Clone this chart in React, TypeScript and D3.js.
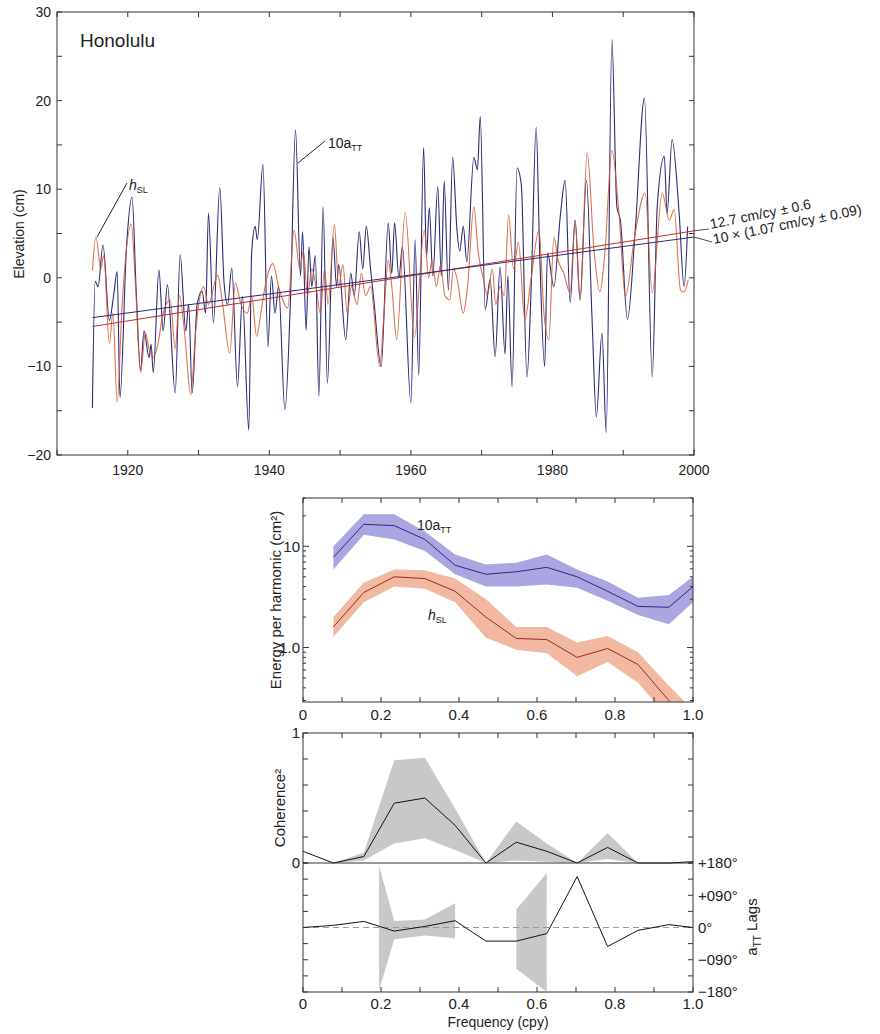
import React from 'react';
import * as d3 from 'd3';

// ---- top panel: Honolulu time series (extrema) ----
const aTTYears = [1915.0, 1915.4, 1915.8, 1916.5, 1917.4, 1918.0, 1918.5, 1918.9, 1919.8, 1920.6, 1921.2, 1921.8, 1922.3, 1923.0, 1923.3, 1923.6, 1924.4, 1925.0, 1925.6, 1926.7, 1927.4, 1928.2, 1928.6, 1929.1, 1929.8, 1930.5, 1931.0, 1931.4, 1932.1, 1933.0, 1933.6, 1934.1, 1934.7, 1935.5, 1936.2, 1937.1, 1937.5, 1938.0, 1938.3, 1939.1, 1939.8, 1940.3, 1940.8, 1941.3, 1942.2, 1943.0, 1943.7, 1944.4, 1944.7, 1945.2, 1945.6, 1946.0, 1946.5, 1947.0, 1947.6, 1948.2, 1949.0, 1949.5, 1949.8, 1950.8, 1951.5, 1952.0, 1952.7, 1953.2, 1953.7, 1954.3, 1954.8, 1955.8, 1956.8, 1957.3, 1957.7, 1958.3, 1958.8, 1960.0, 1960.6, 1961.1, 1961.8, 1962.2, 1962.6, 1963.1, 1963.8, 1964.3, 1964.7, 1965.3, 1965.9, 1966.5, 1966.9, 1967.4, 1967.9, 1968.9, 1969.4, 1969.8, 1970.5, 1971.2, 1971.9, 1972.6, 1973.3, 1973.7, 1974.3, 1975.0, 1975.6, 1976.4, 1977.0, 1977.7, 1978.2, 1978.9, 1979.3, 1980.2, 1981.1, 1981.8, 1982.5, 1983.2, 1983.9, 1984.8, 1985.6, 1986.2, 1987.0, 1987.6, 1988.4, 1989.1, 1989.6, 1990.6, 1991.7, 1993.0, 1994.1, 1994.8, 1995.8, 1996.2, 1996.9, 1997.9, 1998.6, 1999.1];
const aTTValues = [-14.7, -0.4, -1.0, 3.7, -4.8, -2.0, 0.7, -13.5, 3.2, 9.1, -1.7, -10.4, -6.0, -9.0, -7.5, -10.7, 0.9, -6.0, -0.8, -13.0, 2.6, -6.0, -3.0, -13.0, -3.0, -1.5, -4.0, 7.3, -5.1, 10.2, -0.5, -3.0, 1.1, -12.3, -2.1, -17.2, 2.8, 5.8, 4.3, 12.8, -7.8, 0.2, -4.0, -1.0, -14.9, -2.1, 16.7, 0.2, 5.2, -5.9, 3.5, -1.0, 2.5, -13.4, 8.0, -11.9, 4.5, -1.0, 1.5, -7.0, 0.5, -2.0, 5.2, 1.0, 5.8, 1.0, -2.8, -10.0, 6.2, 0.5, 6.2, 0.0, 3.5, -14.1, 4.3, -11.0, 14.7, 2.3, 7.9, 0.2, 10.3, 0.2, 10.9, -1.4, 13.6, 5.5, 3.0, 5.8, 1.8, 13.6, 12.2, 18.2, -3.6, -0.2, -8.9, 1.2, -8.6, 0.2, -12.3, 12.4, 10.5, -11.2, -1.0, 17.0, 2.7, -10.0, 2.8, -1.0, 6.9, 11.0, -2.8, 6.5, -2.5, 11.0, -4.7, -15.7, -6.2, -17.5, 26.9, 8.0, 6.5, -4.7, 5.4, 20.3, -11.2, 8.0, 13.7, 7.3, 15.6, 7.3, -1.0, 5.8];

const hSLYears = [1915.0, 1915.5, 1916.2, 1916.6, 1917.4, 1917.9, 1918.5, 1919.2, 1920.5, 1921.1, 1921.8, 1922.5, 1923.0, 1923.6, 1924.2, 1925.0, 1926.0, 1926.7, 1927.3, 1928.0, 1928.9, 1929.6, 1930.7, 1931.4, 1932.7, 1933.4, 1934.4, 1935.2, 1936.0, 1936.9, 1937.5, 1938.2, 1938.8, 1939.4, 1940.5, 1941.3, 1942.6, 1943.5, 1944.3, 1944.8, 1945.4, 1946.0, 1946.6, 1947.2, 1947.8, 1948.3, 1949.2, 1949.8, 1950.4, 1951.0, 1951.6, 1952.4, 1953.0, 1953.6, 1954.3, 1955.6, 1956.2, 1956.8, 1957.3, 1958.0, 1959.2, 1960.5, 1961.9, 1962.5, 1963.0, 1963.6, 1964.2, 1964.8, 1965.5, 1966.0, 1966.5, 1967.4, 1968.0, 1968.9, 1969.5, 1970.2, 1970.8, 1971.5, 1972.0, 1972.6, 1973.2, 1973.8, 1974.5, 1975.2, 1976.1, 1977.0, 1978.1, 1978.8, 1979.5, 1980.2, 1980.8, 1981.6, 1982.5, 1983.2, 1983.9, 1984.9, 1985.9, 1986.7, 1987.4, 1988.4, 1989.4, 1990.3, 1991.6, 1993.1, 1994.1, 1995.5, 1996.5, 1997.2, 1998.1, 1998.6, 1999.2];
const hSLValues = [0.8, 4.6, 1.0, 2.5, -7.4, -4.0, -14.0, -3.0, 6.0, -1.0, -10.7, -6.2, -8.0, -9.0, -7.7, -4.0, -2.5, -8.0, -2.0, -6.0, -13.2, -6.0, -1.0, -3.0, 0.3, -3.0, -8.5, -0.6, -3.0, -4.0, -2.0, -6.6, -4.0, -1.0, 1.6, -1.0, -3.4, 5.4, 1.0, 3.0, -2.0, 1.0, -1.0, -4.0, 1.0, -3.0, 6.0, -1.0, 1.5, -4.0, -1.0, -3.0, 0.5, -2.0, -1.0, -10.0, -4.0, 2.0, -1.0, -7.0, 7.4, -6.7, 5.4, 0.0, 2.0, -1.0, 1.5, -2.0, -2.5, 1.0, 0.0, -4.0, -1.0, 8.0, 3.0, 0.0, -2.0, 1.0, -3.0, -1.0, -2.0, 7.1, 1.0, 4.0, -4.7, 0.0, 5.4, -4.0, -7.0, 4.6, 2.0, 0.5, -1.7, 6.5, -2.5, 14.1, 2.8, -1.6, 2.8, 14.4, 7.3, -2.1, 4.6, 9.6, -1.7, 9.6, 6.5, 7.7, -1.4, -1.6, -0.2];

const trendYears = [1915, 2000];
const hSLTrend = [-5.5, 5.3];
const aTTTrend = [-4.5, 4.6];

const yearLabels = [1920, 1940, 1960, 1980, 2000];
const elevLabels = [-20, -10, 0, 10, 20, 30];

// ---- spectra ----
const specFreq = [0.078, 0.156, 0.234, 0.3125, 0.39, 0.469, 0.547, 0.625, 0.703, 0.781, 0.859, 0.938, 1.0];
const aTTEnergy = [7.8, 16.5, 16.0, 11.7, 6.5, 5.3, 5.6, 6.2, 5.0, 3.6, 2.55, 2.5, 4.0];
const aTTEnergyHi = [10.0, 20.7, 20.7, 14.0, 8.3, 6.6, 6.9, 8.3, 5.9, 4.5, 3.1, 3.3, 5.0];
const aTTEnergyLo = [5.9, 13.0, 11.7, 9.0, 5.3, 4.0, 4.0, 4.2, 3.9, 2.9, 2.1, 1.7, 2.8];
const hSLEnergy = [1.6, 3.5, 5.0, 4.8, 3.6, 2.0, 1.23, 1.2, 0.8, 0.98, 0.68, 0.3, 0.17];
const hSLEnergyHi = [2.0, 4.4, 5.9, 5.8, 4.8, 3.0, 1.6, 1.6, 1.12, 1.3, 0.9, 0.42, 0.24];
const hSLEnergyLo = [1.28, 2.8, 4.0, 3.8, 2.8, 1.25, 0.95, 0.88, 0.52, 0.72, 0.45, 0.2, 0.12];

// ---- coherence and phase ----
const cohFreq = [0, 0.078, 0.156, 0.234, 0.3125, 0.39, 0.469, 0.547, 0.625, 0.703, 0.781, 0.859, 0.938, 1.0];
const coherence = [0.09, 0.0, 0.05, 0.46, 0.5, 0.29, 0.0, 0.16, 0.09, 0.0, 0.12, 0.0, 0.0, 0.01];
const coherenceHi = [0.09, 0.0, 0.08, 0.79, 0.81, 0.42, 0.0, 0.32, 0.15, 0.0, 0.23, 0.0, 0.0, 0.01];
const coherenceLo = [0.09, 0.0, 0.02, 0.15, 0.19, 0.1, 0.0, 0.02, 0.01, 0.0, 0.03, 0.0, 0.0, 0.01];
const lag = [0, 6, 17, -10, 3, 19, -38, -38, -17, 142, -53, -8, 8, 0];
const lagBand1Freq = [0.195, 0.234, 0.3125, 0.39];
const lagBand1Hi = [172, 18, 22, 68];
const lagBand1Lo = [-175, -33, -22, -30];
const lagBand2Freq = [0.547, 0.625];
const lagBand2Hi = [50, 152];
const lagBand2Lo = [-115, -180];

const freqLabels = [0, 0.2, 0.4, 0.6, 0.8, 1.0];
const lagLabels = ['+180°', '+090°', '0°', '−090°', '−180°'];
const lagLabelValues = [180, 90, 0, -90, -180];

const FONT = '"Liberation Sans", Arial, Helvetica, sans-serif';
const INK = '#333';
const BLUE = '#2c2a78';
const RED = '#d8582c';

const fmt = (v: number) => (v < 0 ? '−' + Math.abs(v) : String(v));

export default function App() {
  // top panel
  const x = d3.scaleLinear().domain([1910, 2000]).range([57, 694]);
  const y = d3.scaleLinear().domain([-20, 30]).range([455, 12]);
  const line = d3.line<[number, number]>()
    .x(d => x(d[0])).y(d => y(d[1]))
    .curve(d3.curveMonotoneX);
  const aTT = aTTYears.map((t, i) => [t, aTTValues[i]] as [number, number]);
  const hSL = hSLYears.map((t, i) => [t, hSLValues[i]] as [number, number]);

  // spectra panel
  const fx = d3.scaleLinear().domain([0, 1]).range([303, 693]);
  const ey = d3.scaleLog().domain([0.29, 30]).range([702, 498]);
  const eLine = d3.line<number>().x((d, i) => fx(specFreq[i])).y(d => ey(d));
  const eArea = (hi: number[], lo: number[]) => d3.area<number>()
    .x((d, i) => fx(specFreq[i])).y0((d, i) => ey(lo[i])).y1(d => ey(d))(hi);

  // coherence panel
  const cy = d3.scaleLinear().domain([0, 1]).range([863, 733]);
  const cLine = d3.line<number>().x((d, i) => fx(cohFreq[i])).y(d => cy(d));
  const cArea = d3.area<number>().x((d, i) => fx(cohFreq[i]))
    .y0((d, i) => cy(coherenceLo[i])).y1(d => cy(d));

  // lag panel
  const ly = d3.scaleLinear().domain([-180, 180]).range([992, 863]);
  const lLine = d3.line<number>().x((d, i) => fx(cohFreq[i])).y(d => ly(d));
  const lArea = (fr: number[], hi: number[], lo: number[]) => d3.area<number>()
    .x((d, i) => fx(fr[i])).y0((d, i) => ly(lo[i])).y1(d => ly(d))(hi);

  const tenths = d3.range(0, 1.0001, 0.1);

  return (
    <svg width={880} height={1034} style={{ position: 'absolute', left: 0, top: 0, background: '#fff' }}
      fontFamily={FONT} fill="#222">
      <defs>
        <clipPath id="clipTop"><rect x={57} y={12} width={637} height={443} /></clipPath>
        <clipPath id="clipE"><rect x={303} y={498} width={390} height={204} /></clipPath>
      </defs>

      {/* ===== top panel ===== */}
      <g clipPath="url(#clipTop)" fill="none">
        <path d={line(aTT) || ''} stroke={BLUE} strokeWidth={1.1} />
        <path d={line(hSL) || ''} stroke={RED} strokeWidth={1.1} opacity={0.85} />
        <line x1={x(trendYears[0])} x2={x(trendYears[1])} y1={y(hSLTrend[0])} y2={y(hSLTrend[1])} stroke="#b8302a" strokeWidth={1} />
        <line x1={x(trendYears[0])} x2={x(trendYears[1])} y1={y(aTTTrend[0])} y2={y(aTTTrend[1])} stroke={BLUE} strokeWidth={1} />
      </g>
      <rect x={57} y={12} width={637} height={443} fill="none" stroke={INK} strokeWidth={1} />
      {x.ticks(9).map(t => (
        <g key={'xt' + t} stroke={INK}>
          <line x1={x(t)} x2={x(t)} y1={455} y2={450} />
          <line x1={x(t)} x2={x(t)} y1={12} y2={17} />
        </g>
      ))}
      {d3.range(-20, 30.1, 5).map(t => (
        <g key={'yt' + t} stroke={INK}>
          <line x1={57} x2={62} y1={y(t)} y2={y(t)} />
          <line x1={694} x2={689} y1={y(t)} y2={y(t)} />
        </g>
      ))}
      {elevLabels.map(t => (
        <text key={'yl' + t} x={51} y={y(t)} dy="0.35em" textAnchor="end" fontSize={14}>{fmt(t)}</text>
      ))}
      {yearLabels.map(t => (
        <text key={'xl' + t} x={x(t)} y={475} textAnchor="middle" fontSize={14}>{t}</text>
      ))}
      <text transform="translate(24,234) rotate(-90)" textAnchor="middle" fontSize={14}>Elevation (cm)</text>
      <text x={80} y={47} fontSize={19}>Honolulu</text>

      <line x1={97} y1={237} x2={127} y2={183} stroke="#222" strokeWidth={1} />
      <text x={129} y={190} fontSize={14}><tspan fontStyle="italic">h</tspan><tspan fontSize={9} dy={3}>SL</tspan></text>
      <line x1={298} y1={163} x2={325} y2={141} stroke="#222" strokeWidth={1} />
      <text x={328} y={148} fontSize={14}>10a<tspan fontSize={9} dy={3}>TT</tspan></text>

      <line x1={694} y1={y(hSLTrend[1])} x2={709} y2={229} stroke="#222" strokeWidth={0.8} />
      <line x1={694} y1={y(aTTTrend[1])} x2={712} y2={242} stroke="#222" strokeWidth={0.8} />
      <text transform="translate(711,229) rotate(-11.5)" fontSize={14}>12.7 cm/cy ± 0.6</text>
      <text transform="translate(714,244) rotate(-11.5)" fontSize={14}>10 × (1.07 cm/cy ± 0.09)</text>

      {/* ===== energy spectra panel ===== */}
      <g clipPath="url(#clipE)">
        <path d={eArea(aTTEnergyHi, aTTEnergyLo) || ''} fill="#aaa6e2" />
        <path d={eArea(hSLEnergyHi, hSLEnergyLo) || ''} fill="#f1b9a2" />
        <path d={eLine(aTTEnergy) || ''} fill="none" stroke={BLUE} strokeWidth={1} />
        <path d={eLine(hSLEnergy) || ''} fill="none" stroke="#9a2a1c" strokeWidth={1} />
      </g>
      <rect x={303} y={498} width={390} height={204} fill="none" stroke={INK} strokeWidth={1} />
      {tenths.map(t => (
        <g key={'et' + t} stroke={INK}>
          <line x1={fx(t)} x2={fx(t)} y1={702} y2={697} />
          <line x1={fx(t)} x2={fx(t)} y1={498} y2={503} />
        </g>
      ))}
      {ey.ticks().map(t => {
        const major = t === 1 || t === 10;
        const L = major ? 6 : 3;
        return (
          <g key={'ey' + t} stroke={INK}>
            <line x1={303} x2={303 + L} y1={ey(t)} y2={ey(t)} />
            <line x1={693} x2={693 - L} y1={ey(t)} y2={ey(t)} />
          </g>
        );
      })}
      <text x={300} y={ey(10)} dy="0.35em" textAnchor="end" fontSize={15}>10</text>
      <text x={300} y={ey(1)} dy="0.35em" textAnchor="end" fontSize={15}>1.0</text>
      {freqLabels.map(t => (
        <text key={'efl' + t} x={fx(t)} y={720} textAnchor="middle" fontSize={15}>{t === 0 ? '0' : t.toFixed(1)}</text>
      ))}
      <text transform="translate(281,600) rotate(-90)" textAnchor="middle" fontSize={15}>Energy per harmonic (cm²)</text>
      <text x={417} y={530} fontSize={14}>10a<tspan fontSize={9} dy={3}>TT</tspan></text>
      <text x={428} y={620} fontSize={14}><tspan fontStyle="italic">h</tspan><tspan fontSize={9} dy={3}>SL</tspan></text>

      {/* ===== coherence panel ===== */}
      <path d={cArea(coherenceHi) || ''} fill="#c8c8c8" />
      <path d={cLine(coherence) || ''} fill="none" stroke="#111" strokeWidth={1} />
      {/* ===== lag panel ===== */}
      <path d={lArea(lagBand1Freq, lagBand1Hi, lagBand1Lo) || ''} fill="#c8c8c8" />
      <path d={lArea(lagBand2Freq, lagBand2Hi, lagBand2Lo) || ''} fill="#c8c8c8" />
      <line x1={303} x2={693} y1={ly(0)} y2={ly(0)} stroke="#999" strokeWidth={1.2} strokeDasharray="6,4" />
      <path d={lLine(lag) || ''} fill="none" stroke="#111" strokeWidth={1} />

      <rect x={303} y={733} width={390} height={259} fill="none" stroke={INK} strokeWidth={1} />
      <line x1={303} x2={693} y1={863} y2={863} stroke={INK} strokeWidth={1.2} />
      {tenths.map(t => (
        <g key={'ct' + t} stroke={INK}>
          <line x1={fx(t)} x2={fx(t)} y1={733} y2={738} />
          <line x1={fx(t)} x2={fx(t)} y1={992} y2={987} />
        </g>
      ))}
      {d3.range(0, 1.0001, 0.2).map(t => (
        <g key={'cy' + t} stroke={INK}>
          <line x1={303} x2={308} y1={cy(t)} y2={cy(t)} />
          <line x1={693} x2={688} y1={cy(t)} y2={cy(t)} />
        </g>
      ))}
      {d3.range(-180, 180.1, 45).map(t => (
        <g key={'ly' + t} stroke={INK}>
          <line x1={303} x2={308} y1={ly(t)} y2={ly(t)} />
          <line x1={693} x2={688} y1={ly(t)} y2={ly(t)} />
        </g>
      ))}
      <text x={300} y={cy(1)} dy="0.35em" textAnchor="end" fontSize={15}>1</text>
      <text x={300} y={cy(0)} dy="0.35em" textAnchor="end" fontSize={15}>0</text>
      <text transform="translate(285,808) rotate(-90)" textAnchor="middle" fontSize={15}>Coherence²</text>
      {lagLabelValues.map((v, i) => (
        <text key={'ll' + v} x={698} y={ly(v)} dy="0.35em" fontSize={15}>{lagLabels[i]}</text>
      ))}
      <text transform="translate(757,927) rotate(-90)" textAnchor="middle" fontSize={15}>
        a<tspan fontSize={10} dy={4}>TT</tspan><tspan dy={-4}> Lags</tspan>
      </text>
      {freqLabels.map(t => (
        <text key={'lfl' + t} x={fx(t)} y={1009} textAnchor="middle" fontSize={15}>{t === 0 ? '0' : t.toFixed(1)}</text>
      ))}
      <text x={498} y={1027} textAnchor="middle" fontSize={14}>Frequency (cpy)</text>
    </svg>
  );
}
